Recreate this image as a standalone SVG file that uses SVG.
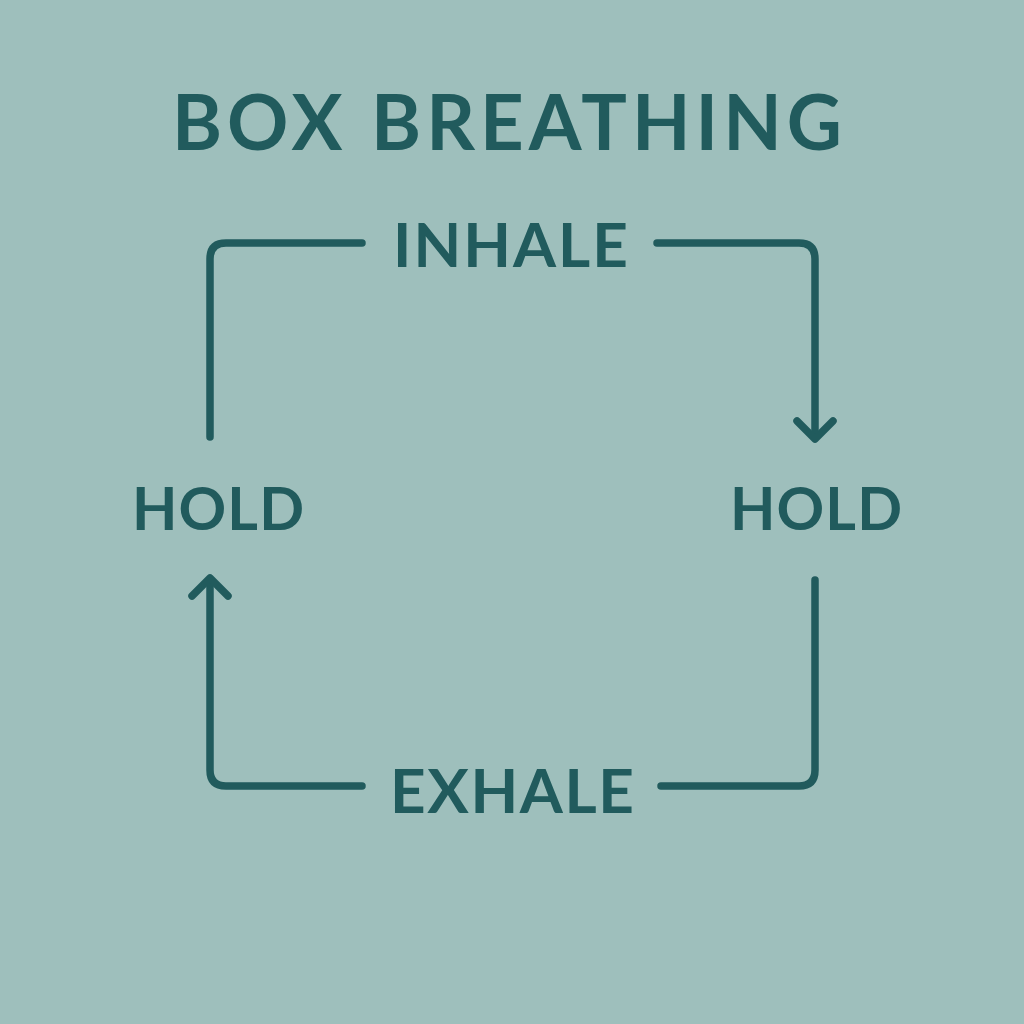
<svg xmlns="http://www.w3.org/2000/svg" width="1024" height="1024" viewBox="0 0 1024 1024">
<style>
.t{font-family:Lato,"Open Sans","Liberation Sans",sans-serif;fill:#215b5d;font-weight:700}
.c{fill:none;stroke:#215b5d;stroke-width:7.5;stroke-linecap:round;stroke-linejoin:round}
</style>
<rect width="1024" height="1024" fill="#9ebfbc"/>
<g id="title"><text class="t" x="172" y="150" font-size="76" textLength="670" lengthAdjust="spacing">BOX BREATHING</text></g>
<g id="inhale"><text class="t" x="393" y="267" font-size="62" font-weight="600" textLength="235" lengthAdjust="spacing">INHALE</text></g>
<g id="hold-left"><text class="t" x="132" y="530" font-size="59" font-weight="600" textLength="172" lengthAdjust="spacing">HOLD</text></g>
<g id="hold-right"><text class="t" x="730" y="530" font-size="59" font-weight="600" textLength="172" lengthAdjust="spacing">HOLD</text></g>
<g id="exhale"><text class="t" x="390" y="813" font-size="62" font-weight="600" textLength="244" lengthAdjust="spacing">EXHALE</text></g>
<g id="connectors">
<path class="c" d="M362,243 H226 Q210,243 210,259 V437"/>
<path class="c" d="M657,243 H799 Q815,243 815,259 V438"/>
<path class="c" d="M797,421 L815,439 L833,421"/>
<path class="c" d="M815,580 V770 Q815,786 799,786 H661"/>
<path class="c" d="M362,786 H226 Q210,786 210,770 V580"/>
<path class="c" d="M192,596 L210,578 L228,596"/>
</g>
</svg>
